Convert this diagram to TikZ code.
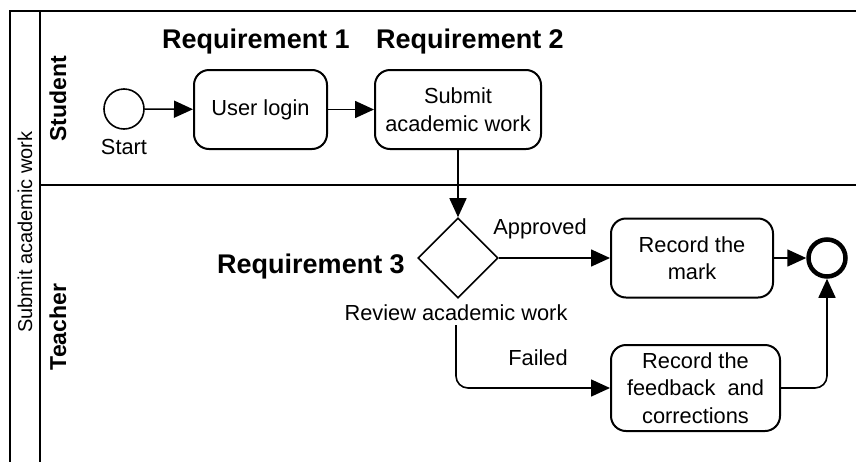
\documentclass[tikz,border=0pt]{standalone}
\usepackage{fontspec}
\setmainfont{Liberation Sans}
\usetikzlibrary{arrows.meta,shapes.geometric}
\begin{document}
\begin{tikzpicture}[x=1pt,y=-1pt,
  txt/.style={font=\fontsize{21.8}{27.5}\selectfont, inner sep=0pt, align=center},
  req/.style={font=\bfseries\fontsize{27}{32}\selectfont, inner sep=0pt},
  lanelbl/.style={font=\bfseries\fontsize{23}{28}\selectfont, inner sep=0pt, rotate=90},
  task/.style={draw, line width=2pt, rounded corners=15pt, txt, minimum height=79pt},
  flow/.style={line width=1.6pt, -{Triangle[length=19pt,width=17pt]}},
  lane/.style={line width=2.2pt}
]
\useasboundingbox (0,0) rectangle (856,461);
\fill[white] (0,0) rectangle (856,461);
% pool and lanes
\coordinate (pTL) at (10,11);
\coordinate (pTR) at (860,11);
\coordinate (pBL) at (10,465);
\coordinate (lTL) at (40,11);
\coordinate (lBL) at (40,465);
\coordinate (dL) at (40,185);
\coordinate (dR) at (860,185);
\draw[lane] (pBL) -- (pTL) -- (pTR);
\draw[lane] (lTL) -- (lBL);
\draw[lane] (dL) -- (dR);
\node[txt, rotate=90, font=\fontsize{20}{24}\selectfont] (pool) at (25,232) {Submit academic work};
\node[lanelbl] (student) at (58,99) {Student};
\node[lanelbl] (teacher) at (58,327) {Teacher};
% requirement labels
\node[req] (r1) at (256,42) {Requirement 1};
\node[req] (r2) at (470,42) {Requirement 2};
\node[req] (r3) at (311,267) {Requirement 3};
% nodes
\node[draw, circle, line width=1.6pt, minimum size=40pt, inner sep=0pt] (start) at (124,109) {};
\node[txt] (startlbl) at (124,147) {Start};
\node[task, minimum width=133pt] (login) at (260.5,109.5) {User login};
\node[task, minimum width=166pt] (submit) at (458,109.5) {Submit\\academic work};
\node[draw, diamond, aspect=1, minimum size=80pt, inner sep=0pt, line width=1.6pt] (dia) at (458,258) {};
\node[txt] (revlbl) at (456,313) {Review academic work};
\node[task, minimum width=162pt] (mark) at (692,258) {Record the\\mark};
\node[task, minimum width=169pt, minimum height=86pt] (fb) at (695.5,388) {Record the\\feedback\ \ and\\corrections};
\node[draw, circle, line width=4.5pt, minimum size=37pt, inner sep=0pt] (end) at (827,258) {};
% flows
\draw[flow] (start) -- (login);
\draw[flow] (login) -- (submit);
\draw[flow] (submit.south) -- (dia.north);
\draw[flow] (dia.east) -- (mark.west);
\node[txt] (appr) at (540,229) {Approved};
\draw[flow] (mark.east) -- (end.west);
\draw[flow, rounded corners=12pt] (revlbl.south) ++(0,4) |- (fb.west);
\node[txt] (failed) at (538,358) {Failed};
\draw[flow, rounded corners=12pt] (fb.east) -| (end.south);
\end{tikzpicture}
\end{document}
